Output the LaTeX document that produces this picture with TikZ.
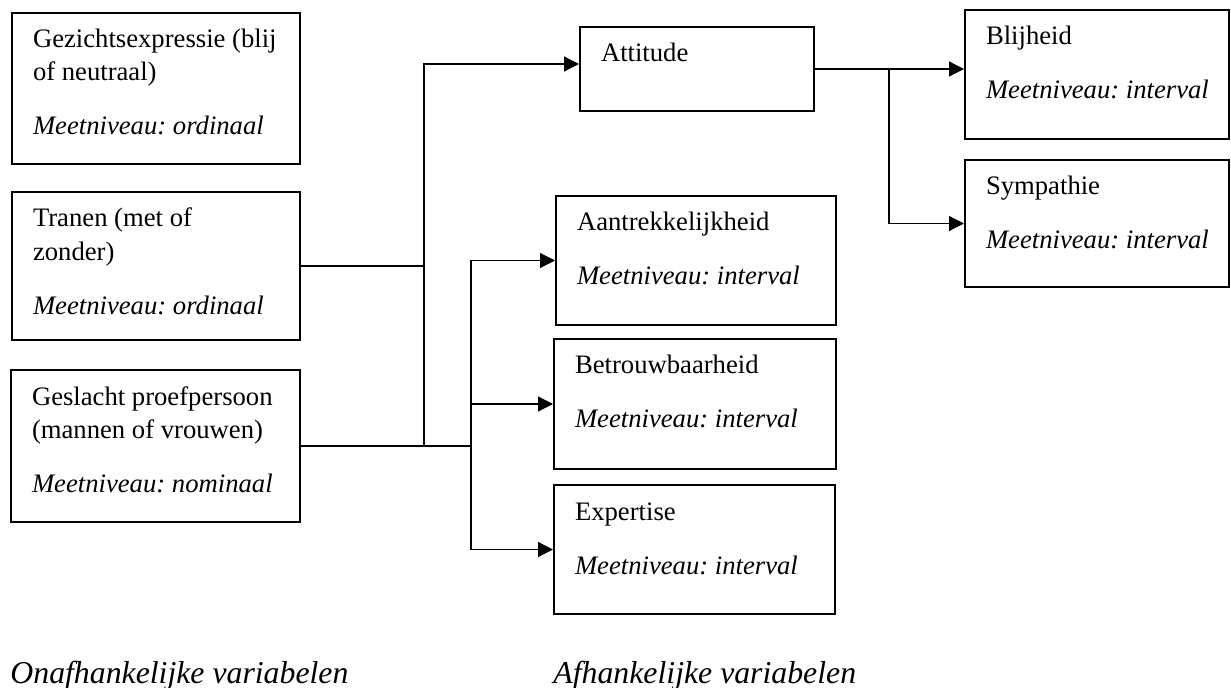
\documentclass[tikz,border=0pt]{standalone}
\usepackage{fontspec}
\setmainfont{Liberation Serif}
\usepackage{tikz}
\usetikzlibrary{arrows.meta}
\usetikzlibrary{calc}

\frenchspacing
\newdimen\pix \pix=0.45pt
% box text: width, height (px), name, level
\newcommand{\vartext}[4]{\hspace*{21\pix}%
  \parbox[t][#2\pix][t]{\dimexpr#1\pix-31\pix\relax}{\raggedright
  \rule{0pt}{35\pix}#3\ifx&#4&\else\\[21\pix]\textit{Meetniveau: #4}\fi}%
  \hspace*{10\pix}}

\begin{document}
\begin{tikzpicture}[
        x=0.45pt, y=-0.45pt,
        varbox/.style={draw, line width=0.9pt, anchor=north west,
        inner sep=0pt, font=\fontsize{12}{14.85}\selectfont},
        link/.style={line width=0.55pt},
        pijl/.style={link, -{Triangle[length=6.75pt, width=6.75pt]}},
        kop/.style={anchor=base west, inner sep=0pt,
        font=\fontsize{14.3}{17}\selectfont\itshape}
        ]
        \useasboundingbox (0,0) rectangle (1231,688);

        % onafhankelijke variabelen
        \node[varbox] (gez) at (11,12) {\vartext{288}{151}{Gezichtsexpressie (blij\\of neutraal)}{ordinaal}};
        \node[varbox] (tra) at (11,191) {\vartext{288}{148}{Tranen (met of\\zonder)}{ordinaal}};
        \node[varbox] (ges) at (10,369) {\vartext{289}{152}{Geslacht proefpersoon\\(mannen of vrouwen)}{nominaal}};

        % afhankelijke variabelen
        \node[varbox] (att) at (579,26) {\vartext{234}{84}{Attitude}{}};
        \node[varbox] (bli) at (964,9) {\vartext{264}{129}{Blijheid}{interval}};
        \node[varbox] (sym) at (964,159) {\vartext{264}{127}{Sympathie}{interval}};
        \node[varbox] (aan) at (555,195) {\vartext{280}{129}{Aantrekkelijkheid}{interval}};
        \node[varbox] (bet) at (553,338) {\vartext{282}{130}{Betrouwbaarheid}{interval}};
        \node[varbox] (exp) at (553,484) {\vartext{281}{129}{Expertise}{interval}};

        \coordinate (knoop1) at (424,0);
        \coordinate (knoop2) at (471,0);
        \coordinate (knoop3) at (889,0);

        % verbindingen
        \draw[link] (tra.east) -- (tra.east -| knoop1);
        \draw[link] (ges.east) -- (ges.east -| knoop2);
        \draw[pijl] (ges.east -| knoop1) |- ($(att.west)+(0,-5)$);
        \draw[link] (aan.west -| knoop2) -- (exp.west -| knoop2);
        \draw[pijl] (aan.west -| knoop2) -- (aan.west);
        \draw[pijl] (bet.west -| knoop2) -- (bet.west);
        \draw[pijl] (exp.west -| knoop2) -- (exp.west);
        \draw[pijl] (att.east) -- (att.east -| bli.west);
        \draw[pijl] (att.east -| knoop3) |- (sym.west);

        \node[kop] (onafh) at (10,683) {Onafhankelijke variabelen};
        \node[kop] (afh) at (553,683) {Afhankelijke variabelen};

    \end{tikzpicture}
\end{document}
